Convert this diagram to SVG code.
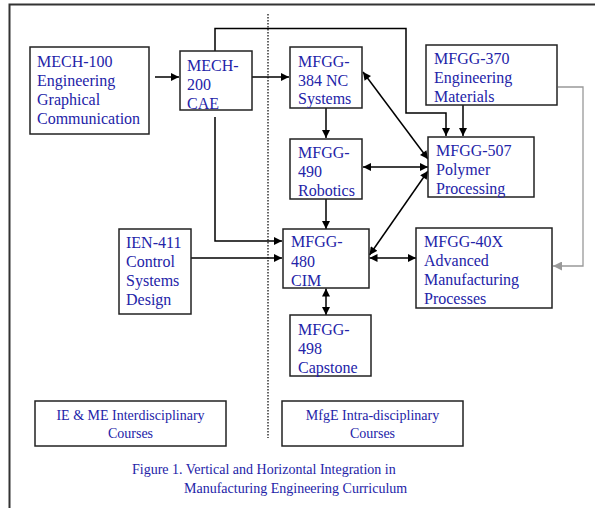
<svg xmlns="http://www.w3.org/2000/svg" width="595" height="508" viewBox="0 0 595 508">
<defs>
<marker id="ah" viewBox="0 0 10 10" refX="10" refY="5" markerUnits="userSpaceOnUse" markerWidth="9" markerHeight="8" orient="auto-start-reverse"><path d="M0,0 L10,5 L0,10 z" fill="#000"/></marker>
<marker id="ahg" viewBox="0 0 10 10" refX="10" refY="5" markerUnits="userSpaceOnUse" markerWidth="10" markerHeight="9" orient="auto"><path d="M0,0 L10,5 L0,10 z" fill="#999"/></marker>
</defs>
<style>
.box{fill:#fff;stroke:#222;stroke-width:1.5}
.t{font-family:"Liberation Serif","Times New Roman",serif;font-size:16px;fill:#2323a8}
.s{font-family:"Liberation Serif","Times New Roman",serif;font-size:14px;fill:#2323a8}
.c{fill:none;stroke:#000;stroke-width:1.5}
.g{fill:none;stroke:#999;stroke-width:1.3}
</style>
<rect width="595" height="508" fill="#fff"/>
<g id="frame"><path d="M9.5,508 L9.5,4.5 L595,4.5" fill="none" stroke="#333" stroke-width="2"/></g>
<g id="divider"><line x1="268" y1="14" x2="268" y2="438" stroke="#000" stroke-width="1.2" stroke-dasharray="1.5,1.5"/></g>
<g id="connectors">
<line class="c" x1="155" y1="77" x2="179" y2="77" marker-end="url(#ah)"/>
<line class="c" x1="252" y1="77" x2="289" y2="77" marker-end="url(#ah)"/>
<polyline class="c" points="215,51 215,28.5 406,28.5 406,113 446,113 446,136" marker-end="url(#ah)"/>
<polyline class="c" points="215,117 215,241 282,241" marker-end="url(#ah)"/>
<line class="c" x1="463" y1="105" x2="463" y2="136" marker-end="url(#ah)"/>
<line class="c" x1="326" y1="108" x2="326" y2="138" marker-end="url(#ah)"/>
<line class="c" x1="326" y1="199" x2="326" y2="229" marker-end="url(#ah)"/>
<line class="c" x1="191" y1="258" x2="282" y2="258" marker-end="url(#ah)"/>
<line class="c" x1="326" y1="288.5" x2="326" y2="315" marker-start="url(#ah)" marker-end="url(#ah)"/>
<line class="c" x1="363" y1="72" x2="428" y2="159" marker-start="url(#ah)" marker-end="url(#ah)"/>
<line class="c" x1="363" y1="167" x2="428" y2="167" marker-start="url(#ah)" marker-end="url(#ah)"/>
<line class="c" x1="369.5" y1="255" x2="428" y2="171" marker-start="url(#ah)" marker-end="url(#ah)"/>
<line class="c" x1="369.5" y1="258" x2="416" y2="258" marker-start="url(#ah)" marker-end="url(#ah)"/>
<polyline class="g" points="558,87 583,87 583,266 553,266" marker-end="url(#ahg)"/>
</g>
<g id="mech100"><rect class="box" x="30" y="47" width="119" height="87"/>
<text class="t" x="37"><tspan x="37" y="67">MECH-100</tspan><tspan x="37" y="86">Engineering</tspan><tspan x="37" y="105">Graphical</tspan><tspan x="37" y="124">Communication</tspan></text></g>
<g id="mech200"><rect class="box" x="180" y="51" width="72" height="59"/>
<text class="t"><tspan x="187" y="71">MECH-</tspan><tspan x="187" y="90">200</tspan><tspan x="187" y="109">CAE</tspan></text></g>
<g id="mfgg384"><rect class="box" x="290" y="47" width="72" height="61"/>
<text class="t"><tspan x="298" y="67">MFGG-</tspan><tspan x="298" y="86">384 NC</tspan><tspan x="298" y="104">Systems</tspan></text></g>
<g id="mfgg370"><rect class="box" x="426" y="45" width="131" height="60"/>
<text class="t"><tspan x="434" y="64">MFGG-370</tspan><tspan x="434" y="83">Engineering</tspan><tspan x="434" y="102">Materials</tspan></text></g>
<g id="mfgg490"><rect class="box" x="290" y="139" width="72" height="60"/>
<text class="t"><tspan x="298" y="158">MFGG-</tspan><tspan x="298" y="177">490</tspan><tspan x="298" y="196">Robotics</tspan></text></g>
<g id="mfgg507"><rect class="box" x="428" y="137" width="106" height="60"/>
<text class="t"><tspan x="436" y="156">MFGG-507</tspan><tspan x="436" y="175">Polymer</tspan><tspan x="436" y="194">Processing</tspan></text></g>
<g id="ien411"><rect class="box" x="119" y="229" width="72" height="85"/>
<text class="t"><tspan x="126" y="248">IEN-411</tspan><tspan x="126" y="267">Control</tspan><tspan x="126" y="286">Systems</tspan><tspan x="126" y="305">Design</tspan></text></g>
<g id="mfgg480"><rect class="box" x="283" y="229" width="86" height="59"/>
<text class="t"><tspan x="291" y="247">MFGG-</tspan><tspan x="291" y="267">480</tspan><tspan x="291" y="286">CIM</tspan></text></g>
<g id="mfgg40x"><rect class="box" x="416" y="228" width="136" height="80"/>
<text class="t"><tspan x="424" y="247">MFGG-40X</tspan><tspan x="424" y="266">Advanced</tspan><tspan x="424" y="285">Manufacturing</tspan><tspan x="424" y="304">Processes</tspan></text></g>
<g id="mfgg498"><rect class="box" x="290" y="315" width="81" height="61"/>
<text class="t"><tspan x="298" y="335">MFGG-</tspan><tspan x="298" y="354">498</tspan><tspan x="298" y="373">Capstone</tspan></text></g>
<g id="legend-ie"><rect class="box" x="35" y="401" width="191" height="45"/>
<text class="s" text-anchor="middle"><tspan x="130.5" y="420">IE &amp; ME Interdisciplinary</tspan><tspan x="130.5" y="438">Courses</tspan></text></g>
<g id="legend-mfge"><rect class="box" x="282" y="401" width="181" height="45"/>
<text class="s" text-anchor="middle"><tspan x="372.5" y="420">MfgE Intra-disciplinary</tspan><tspan x="372.5" y="438">Courses</tspan></text></g>
<g id="caption"><text class="s"><tspan x="132" y="474">Figure 1. Vertical and Horizontal Integration in</tspan><tspan x="184" y="493">Manufacturing Engineering Curriculum</tspan></text></g>
</svg>
